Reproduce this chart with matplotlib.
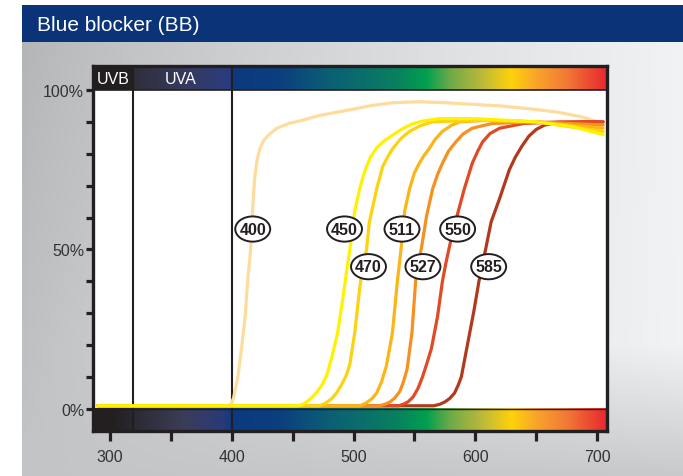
import numpy as np
import matplotlib
matplotlib.use('Agg')
import matplotlib.pyplot as plt
from matplotlib.patches import Ellipse, Rectangle

# transmission curves (wavelength nm, transmittance %)
wl_400 = [290, 397, 399.5, 401.5, 403, 405, 408, 411, 413, 415.5, 417, 418, 419, 420.5, 423, 426, 430, 437, 447, 458, 472, 486, 500, 513, 532, 554, 575, 593, 620, 647, 668, 688, 705]
t_400 = [1, 1, 1.6, 3.5, 6.5, 10, 19, 29, 40, 50, 62, 68, 73, 77.5, 81.5, 84, 85.8, 88, 89.5, 90.5, 92, 93, 94, 95, 96, 96.3, 96, 95.6, 95, 94, 93, 91.5, 89.5]

wl_450 = [290, 455, 460, 465, 470, 474, 478, 482, 487, 491, 495, 497, 501, 505, 508, 510.7, 514, 519, 525, 532, 540, 548, 556, 570, 600, 650, 680, 705]
t_450 = [1, 1, 1.8, 3.3, 5.3, 7.5, 10.5, 16, 24, 34, 45, 50, 62, 69, 73, 76, 79, 81.8, 84, 85.8, 87.8, 89.3, 90.2, 91, 91, 90, 88.5, 86]

wl_470 = [290, 472, 477, 482, 486, 490, 494, 497, 501, 505, 507, 510.7, 513, 519, 524, 528, 532, 539, 546, 555, 565, 600, 650, 705]
t_470 = [1, 1, 1.8, 3.2, 5, 7.5, 10.5, 14, 24, 37.6, 43, 50, 58.6, 69, 76, 79, 81.5, 84.8, 87, 88.8, 90, 90.5, 90, 87]

wl_511 = [290, 505, 510, 515, 519, 523, 527, 532, 536, 539, 542, 546, 550, 554, 558, 562, 567, 573, 580, 587, 610, 650, 705]
t_511 = [1, 1, 1.8, 3.2, 5, 8.5, 13.5, 24, 40, 50, 62, 69, 74, 77, 79.5, 81.5, 84.5, 87, 88.8, 90, 90.5, 90, 88]

wl_527 = [290, 521, 526, 530, 534, 538, 541, 544, 548, 551, 556, 560, 565, 569, 573, 578, 584, 590, 597.5, 614, 650, 705]
t_527 = [1, 1, 1.5, 2.2, 3.5, 5.5, 8.5, 12.5, 24, 40, 51, 60.5, 69, 73.5, 77, 80.8, 83.7, 86.2, 88, 89.5, 90, 89]

wl_550 = [290, 537, 541, 545, 549, 553, 556.6, 560, 564, 569, 573, 576, 580, 585, 591, 597.5, 602, 606, 612, 620, 640, 670, 705]
t_550 = [1, 1, 1.5, 2.3, 3.8, 6.5, 10, 14, 19, 29, 40, 46, 53, 60.5, 69, 77, 80.8, 83.7, 86.3, 88, 89.5, 90, 90]

wl_585 = [290, 566, 571, 575, 579, 583, 586, 588.5, 593, 599, 603, 609, 613, 620, 628, 633, 638.5, 644, 650, 657, 665, 688, 705]
t_585 = [1, 1, 1.5, 2.2, 3.3, 5, 7.5, 10, 19, 31, 40, 51, 58.6, 66, 75, 79, 82.5, 85.5, 87.6, 89, 89.6, 90, 90]

curve_names = ['400', '585', '550', '527', '511', '470', '450']
curve_wl = [wl_400, wl_585, wl_550, wl_527, wl_511, wl_470, wl_450]
curve_t = [t_400, t_585, t_550, t_527, t_511, t_470, t_450]
curve_colors = ['#fedc9c', '#b3391c', '#e04a24', '#f7901e', '#fdb515', '#fdd20f', '#fff200']

# label bubbles: (text, wavelength, %)
label_text = ['400', '450', '511', '550', '470', '527', '585']
label_x = [417.2, 492.6, 539.8, 585.5, 512.3, 557.0, 611.0]
label_y = [56.4, 56.4, 56.4, 56.4, 44.6, 44.6, 44.6]

xticks = [300, 350, 400, 450, 500, 550, 600, 650, 700]
xticklabels = ['300', '', '400', '', '500', '', '600', '', '700']
yticks = [0, 10, 20, 30, 40, 50, 60, 70, 80, 90, 100]
yticklabels = ['0%', '', '', '', '', '50%', '', '', '', '', '100%']

dark = '#231f20'
W, H = 683, 477

fig = plt.figure(figsize=(W / 100, H / 100), dpi=100)
fig.patch.set_facecolor('white')

# background panel + header
bg = fig.add_axes([0, 0, 1, 1])
bg.set_xlim(0, W)
bg.set_ylim(H, 0)
bg.axis('off')
gx = np.linspace(0, 1, 200)
gy = np.linspace(0, 1, 120)
X, Y = np.meshgrid(gx, gy)
left_v = 0.71 + 0.06 * Y
right_v = 0.95 - 0.16 * np.clip((Y - 0.7) / 0.3, 0, 1)
tt = X ** 0.8
val = left_v * (1 - tt) + right_v * tt
img = np.dstack([val * 0.995, val * 1.0, np.minimum(val * 1.01, 1)])
bg.imshow(img, extent=(22, W, H, 43), aspect='auto', interpolation='bilinear', zorder=0)
bg.add_patch(Rectangle((22, 6), W - 22, 37, facecolor='#0b3478', edgecolor='none', zorder=1))
bg.text(37, 25.5, 'Blue blocker (BB)', color='white', fontsize=15, family='Liberation Sans',
        va='center', ha='left', zorder=2)

ax = fig.add_axes([93 / W, 1 - 432 / H, (607 - 93) / W, (432 - 67) / H])
ax.set_facecolor('white')

xmin, xmax, ymin, ymax = 286, 708.2, -6.9, 107.5
uvb_edge = 318.5

# spectrum bars
def spectrum(stops, n=900):
    s_wl = [s[0] for s in stops]
    rgb = np.array([matplotlib.colors.to_rgb(s[1]) for s in stops])
    g = np.linspace(xmin, xmax, n)
    cols = np.stack([np.interp(g, s_wl, rgb[:, k]) for k in range(3)], axis=-1)
    return cols[np.newaxis, :, :]

vis = [(402, '#0c3a80'), (440, '#0b3f7e'), (480, '#0b5f74'), (505, '#0b6d6d'), (535, '#08805e'),
       (560, '#00a050'), (580, '#70aa48'), (605, '#b9b83a'), (630, '#ffd20a'), (650, '#f8a52a'),
       (675, '#f27a36'), (708.2, '#e8272f')]
bottom_stops = [(286, dark), (302, dark), (320, '#2b2a33'), (360, '#3b3d58'), (392, '#2a3a78')] + vis
top_stops = [(286, dark), (uvb_edge - 0.5, dark), (uvb_edge + 0.5, '#2e2e3a'), (360, '#363a5c'), (398, '#2a3c80')] + vis

ax.imshow(spectrum(bottom_stops), extent=(xmin, xmax, ymin, 0), aspect='auto', zorder=1)
ax.imshow(spectrum(top_stops), extent=(xmin, xmax, 100, ymax), aspect='auto', zorder=1)
ax.axhline(0, color=dark, lw=1.0, zorder=2)
ax.axhline(100, color=dark, lw=1.2, zorder=2)
ax.axvline(uvb_edge, color=dark, lw=1.5, zorder=2)
ax.axvline(400, color=dark, lw=1.5, zorder=2)

ax.text(302.5, 103.6, 'UVB', color='white', fontsize=11.5, family='Liberation Sans',
        ha='center', va='center', zorder=3)
ax.text(358, 103.6, 'UVA', color='white', fontsize=11.5, family='Liberation Sans',
        ha='center', va='center', zorder=3)

for name, w, t, c in zip(curve_names, curve_wl, curve_t, curve_colors):
    ax.plot(w, t, color=c, lw=2.3, solid_capstyle='round', solid_joinstyle='round', zorder=4)

for txt, lx, ly in zip(label_text, label_x, label_y):
    ax.add_patch(Ellipse((lx, ly), 28.7, 7.9, facecolor='white', edgecolor=dark, lw=1.4, zorder=5))
    ax.text(lx, ly, txt, fontsize=11.5, fontweight='bold', color=dark,
            family=['Liberation Sans Narrow', 'Liberation Sans', 'DejaVu Sans'],
            ha='center', va='center', zorder=6)

ax.set_xlim(xmin, xmax)
ax.set_ylim(ymin, ymax)
ax.set_xticks(xticks)
ax.set_xticklabels(xticklabels)
ax.set_yticks(yticks)
ax.set_yticklabels(yticklabels)
ax.tick_params(axis='x', direction='out', length=7, width=2.3, color=dark, pad=6,
               labelsize=11.5, labelcolor='#333333')
ax.tick_params(axis='y', direction='out', length=4.8, width=2.3, color=dark, pad=1.5,
               labelsize=11.5, labelcolor='#333333')
for lab in ax.get_xticklabels() + ax.get_yticklabels():
    lab.set_family('Liberation Sans')
for sp in ax.spines.values():
    sp.set_linewidth(2.4)
    sp.set_color(dark)
    sp.set_zorder(7)

fig.savefig('out.png', dpi=100)
